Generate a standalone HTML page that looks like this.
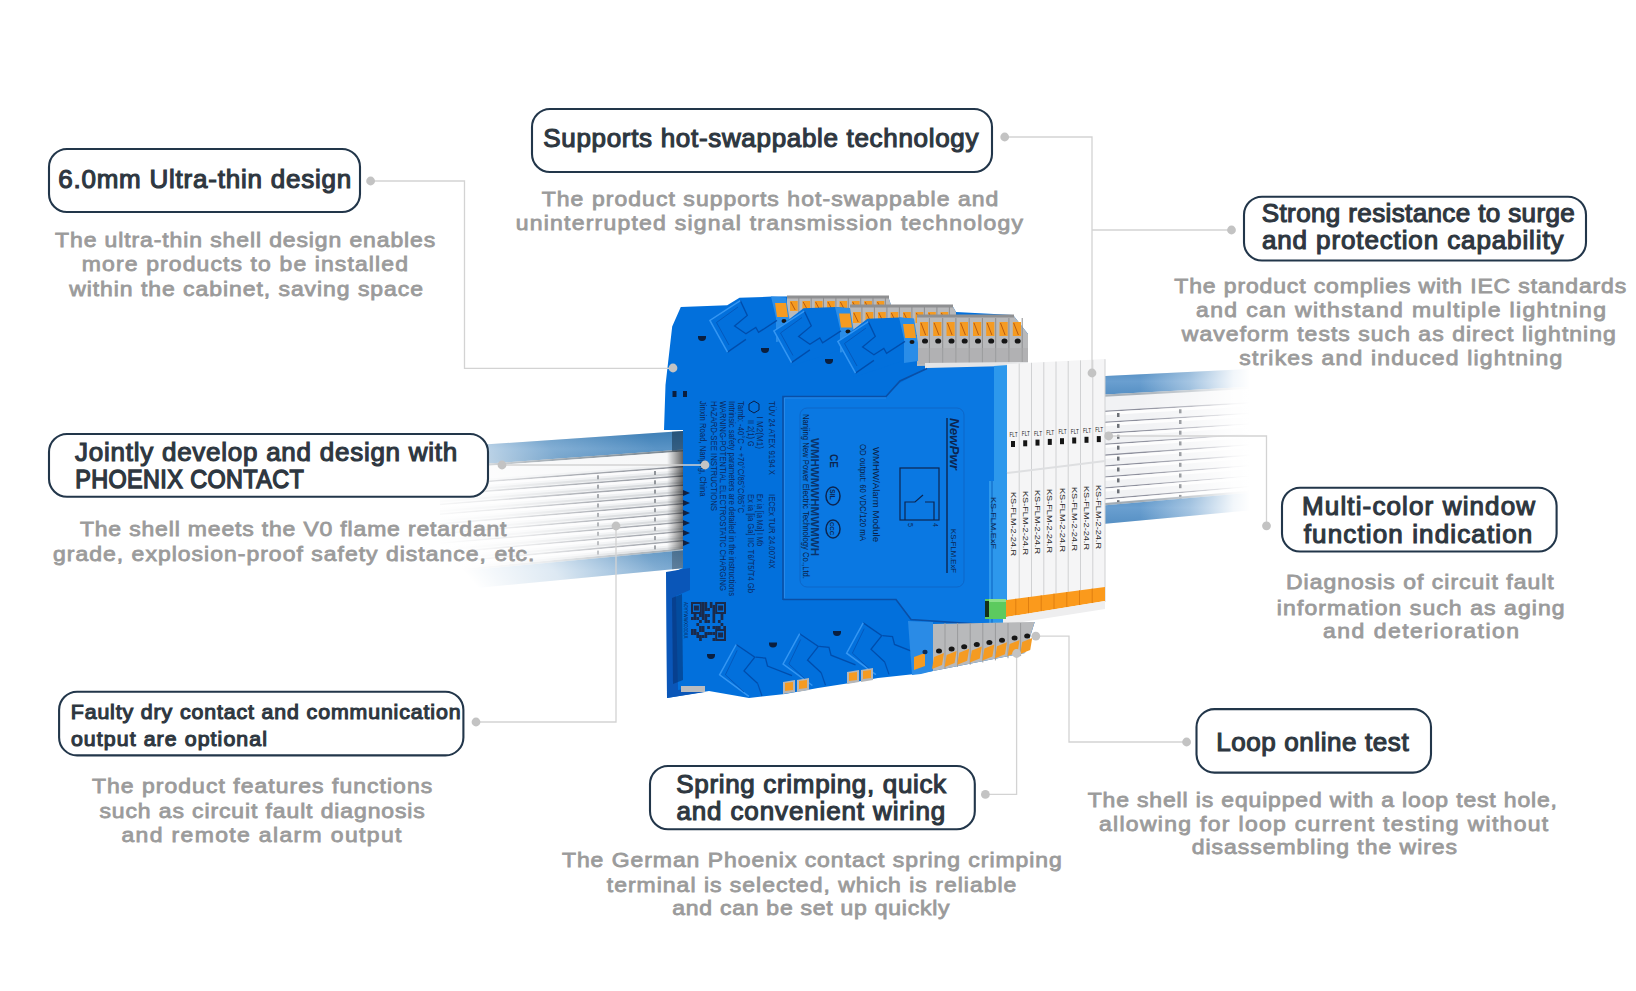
<!DOCTYPE html>
<html><head><meta charset="utf-8"><style>
html,body{margin:0;padding:0;background:#fff;}
body{width:1636px;height:991px;overflow:hidden;position:relative;font-family:"Liberation Sans",sans-serif;}
svg{position:absolute;left:0;top:0;}
text{font-family:"Liberation Sans",sans-serif;font-weight:normal;}
</style></head><body>
<svg width="1636" height="991" viewBox="0 0 1636 991">
<defs>
 <linearGradient id="fadeL" x1="480" y1="590" x2="650" y2="440" gradientUnits="userSpaceOnUse">
  <stop offset="0" stop-color="#fff" stop-opacity="1"/>
  <stop offset="0.3" stop-color="#fff" stop-opacity="0.8"/>
  <stop offset="0.65" stop-color="#fff" stop-opacity="0.25"/>
  <stop offset="1" stop-color="#fff" stop-opacity="0"/>
 </linearGradient>
 <linearGradient id="fadeR" x1="1140" y1="0" x2="1250" y2="0" gradientUnits="userSpaceOnUse">
  <stop offset="0" stop-color="#fff" stop-opacity="0"/>
  <stop offset="0.45" stop-color="#fff" stop-opacity="0.4"/>
  <stop offset="0.85" stop-color="#fff" stop-opacity="0.92"/>
  <stop offset="1" stop-color="#fff" stop-opacity="1"/>
 </linearGradient>
 <linearGradient id="railBlueR" x1="0" y1="0" x2="0" y2="1">
  <stop offset="0" stop-color="#4f8bc0"/>
  <stop offset="0.5" stop-color="#6a9fd0"/>
  <stop offset="1" stop-color="#5690c4"/>
 </linearGradient>
 <linearGradient id="railBlue" x1="0" y1="0" x2="0" y2="1">
  <stop offset="0" stop-color="#3e7fb6"/>
  <stop offset="0.5" stop-color="#5a94c6"/>
  <stop offset="1" stop-color="#3d7db2"/>
 </linearGradient>
</defs>
<polygon points="683.0,431.1 440.0,447.6 440.0,591.5 683.0,568.2" fill="#eceef0" />
<polygon points="683.0,431.1 440.0,447.6 440.0,467.0 683.0,449.6" fill="url(#railBlue)" />
<polygon points="683.0,449.6 440.0,467.0 440.0,469.2 683.0,451.6" fill="#7f8c96" />
<polygon points="683.0,451.6 440.0,469.2 440.0,482.1 683.0,464.0" fill="#f6f7f8" />
<polygon points="683.0,548.3 440.0,570.6 440.0,572.8 683.0,550.3" fill="#98a2aa" />
<polygon points="683.0,550.3 440.0,572.8 440.0,591.5 683.0,568.2" fill="url(#railBlue)" />
<polygon points="683.0,466.0 440.0,484.3 440.0,485.9 683.0,467.5" fill="#8f939b" />
<polygon points="683.0,467.5 440.0,485.9 440.0,488.6 683.0,470.1" fill="#fbfbfc" />
<polygon points="683.0,472.2 440.0,490.8 440.0,492.9 683.0,474.2" fill="#d3d6d9" />
<polygon points="683.0,475.3 440.0,494.0 440.0,495.6 683.0,476.8" fill="#8f939b" />
<polygon points="683.0,476.8 440.0,495.6 440.0,498.3 683.0,479.4" fill="#fbfbfc" />
<polygon points="683.0,481.4 440.0,500.5 440.0,502.6 683.0,483.5" fill="#d3d6d9" />
<polygon points="683.0,484.5 440.0,503.7 440.0,505.3 683.0,486.0" fill="#8f939b" />
<polygon points="683.0,486.0 440.0,505.3 440.0,508.0 683.0,488.6" fill="#fbfbfc" />
<polygon points="683.0,490.7 440.0,510.2 440.0,512.3 683.0,492.8" fill="#d3d6d9" />
<polygon points="683.0,493.8 440.0,513.4 440.0,515.0 683.0,495.3" fill="#8f939b" />
<polygon points="683.0,495.3 440.0,515.0 440.0,517.7 683.0,497.9" fill="#fbfbfc" />
<polygon points="683.0,500.0 440.0,519.9 440.0,522.1 683.0,502.0" fill="#d3d6d9" />
<polygon points="683.0,503.0 440.0,523.1 440.0,524.7 683.0,504.5" fill="#8f939b" />
<polygon points="683.0,504.5 440.0,524.7 440.0,527.5 683.0,507.2" fill="#fbfbfc" />
<polygon points="683.0,509.2 440.0,529.6 440.0,531.8 683.0,511.3" fill="#d3d6d9" />
<polygon points="683.0,512.3 440.0,532.9 440.0,534.4 683.0,513.8" fill="#8f939b" />
<polygon points="683.0,513.8 440.0,534.4 440.0,537.2 683.0,516.4" fill="#fbfbfc" />
<polygon points="683.0,518.5 440.0,539.3 440.0,541.5 683.0,520.5" fill="#d3d6d9" />
<polygon points="683.0,521.5 440.0,542.6 440.0,544.1 683.0,523.1" fill="#8f939b" />
<polygon points="683.0,523.1 440.0,544.1 440.0,546.9 683.0,525.7" fill="#fbfbfc" />
<polygon points="683.0,527.7 440.0,549.0 440.0,551.2 683.0,529.8" fill="#d3d6d9" />
<polygon points="683.0,530.8 440.0,552.3 440.0,553.9 683.0,532.3" fill="#8f939b" />
<polygon points="683.0,532.3 440.0,553.9 440.0,556.6 683.0,534.9" fill="#fbfbfc" />
<polygon points="683.0,537.0 440.0,558.8 440.0,560.9 683.0,539.0" fill="#d3d6d9" />
<polygon points="683.0,540.1 440.0,562.0 440.0,563.6 683.0,541.6" fill="#8f939b" />
<polygon points="683.0,541.6 440.0,563.6 440.0,566.3 683.0,544.2" fill="#fbfbfc" />
<polygon points="683.0,546.2 440.0,568.5 440.0,570.6 683.0,548.3" fill="#d3d6d9" />
<rect x="597" y="475.3" width="2" height="4" fill="#8a8e94"/>
<rect x="597" y="484.7" width="2" height="4" fill="#8a8e94"/>
<rect x="597" y="494.1" width="2" height="4" fill="#8a8e94"/>
<rect x="597" y="503.5" width="2" height="4" fill="#8a8e94"/>
<rect x="597" y="512.9" width="2" height="4" fill="#8a8e94"/>
<rect x="597" y="522.4" width="2" height="4" fill="#8a8e94"/>
<rect x="597" y="531.8" width="2" height="4" fill="#8a8e94"/>
<rect x="597" y="541.2" width="2" height="4" fill="#8a8e94"/>
<rect x="597" y="550.6" width="2" height="4" fill="#8a8e94"/>
<rect x="654" y="471.0" width="2" height="4" fill="#8a8e94"/>
<rect x="654" y="480.3" width="2" height="4" fill="#8a8e94"/>
<rect x="654" y="489.6" width="2" height="4" fill="#8a8e94"/>
<rect x="654" y="498.9" width="2" height="4" fill="#8a8e94"/>
<rect x="654" y="508.2" width="2" height="4" fill="#8a8e94"/>
<rect x="654" y="517.5" width="2" height="4" fill="#8a8e94"/>
<rect x="654" y="526.8" width="2" height="4" fill="#8a8e94"/>
<rect x="654" y="536.1" width="2" height="4" fill="#8a8e94"/>
<rect x="654" y="545.4" width="2" height="4" fill="#8a8e94"/>
<linearGradient id="shL" x1="667" y1="0" x2="683" y2="0" gradientUnits="userSpaceOnUse"><stop offset="0" stop-color="#000" stop-opacity="0"/><stop offset="1" stop-color="#000" stop-opacity="0.6"/></linearGradient>
<polygon points="683.0,450.3 655.0,452.3 655.0,551.5 683.0,549.0" fill="url(#shL)"/>
<polygon points="683.0,431.1 672.0,431.8 672.0,451.0 683.0,450.3" fill="#0d2740" opacity="0.5"/>
<polygon points="683.0,550.3 672.0,551.4 672.0,569.2 683.0,568.2" fill="#0d2740" opacity="0.5"/>
<polygon points="685.0,428.1 435.0,444.6 435.0,596.5 685.0,571.2" fill="url(#fadeL)"/>
<polygon points="1100.0,376.2 1270.0,368.1 1270.0,508.6 1100.0,524.3" fill="#f1f2f4"/>
<polygon points="1100.0,376.2 1270.0,368.1 1270.0,385.7 1100.0,394.7" fill="url(#railBlueR)"/>
<polygon points="1100.0,394.7 1270.0,385.7 1270.0,387.8 1100.0,397.0" fill="#a9b2ba"/>
<polygon points="1100.0,411.0 1270.0,401.1 1270.0,402.4 1100.0,412.3" fill="#8d8f9c"/>
<polygon points="1100.0,412.3 1270.0,402.4 1270.0,405.3 1100.0,415.5" fill="#fdfdfd"/>
<rect x="1117" y="413.0" width="2.5" height="4" fill="#6d7177"/>
<rect x="1179" y="409.3" width="2.5" height="4" fill="#6d7177"/>
<polygon points="1100.0,422.0 1270.0,411.5 1270.0,412.8 1100.0,423.3" fill="#8d8f9c"/>
<polygon points="1100.0,423.3 1270.0,412.8 1270.0,415.7 1100.0,426.4" fill="#fdfdfd"/>
<rect x="1117" y="423.9" width="2.5" height="4" fill="#6d7177"/>
<rect x="1179" y="420.0" width="2.5" height="4" fill="#6d7177"/>
<polygon points="1100.0,432.9 1270.0,421.9 1270.0,423.2 1100.0,434.3" fill="#8d8f9c"/>
<polygon points="1100.0,434.3 1270.0,423.2 1270.0,426.1 1100.0,437.4" fill="#fdfdfd"/>
<rect x="1117" y="434.8" width="2.5" height="4" fill="#6d7177"/>
<rect x="1179" y="430.7" width="2.5" height="4" fill="#6d7177"/>
<polygon points="1100.0,443.9 1270.0,432.3 1270.0,433.6 1100.0,445.2" fill="#8d8f9c"/>
<polygon points="1100.0,445.2 1270.0,433.6 1270.0,436.5 1100.0,448.3" fill="#fdfdfd"/>
<rect x="1117" y="445.7" width="2.5" height="4" fill="#6d7177"/>
<rect x="1179" y="441.4" width="2.5" height="4" fill="#6d7177"/>
<polygon points="1100.0,454.8 1270.0,442.7 1270.0,444.0 1100.0,456.2" fill="#8d8f9c"/>
<polygon points="1100.0,456.2 1270.0,444.0 1270.0,446.9 1100.0,459.3" fill="#fdfdfd"/>
<rect x="1117" y="456.6" width="2.5" height="4" fill="#6d7177"/>
<rect x="1179" y="452.1" width="2.5" height="4" fill="#6d7177"/>
<polygon points="1100.0,465.8 1270.0,453.1 1270.0,454.4 1100.0,467.1" fill="#8d8f9c"/>
<polygon points="1100.0,467.1 1270.0,454.4 1270.0,457.3 1100.0,470.2" fill="#fdfdfd"/>
<rect x="1117" y="467.5" width="2.5" height="4" fill="#6d7177"/>
<rect x="1179" y="462.8" width="2.5" height="4" fill="#6d7177"/>
<polygon points="1100.0,476.8 1270.0,463.5 1270.0,464.7 1100.0,478.1" fill="#8d8f9c"/>
<polygon points="1100.0,478.1 1270.0,464.7 1270.0,467.7 1100.0,481.2" fill="#fdfdfd"/>
<rect x="1117" y="478.4" width="2.5" height="4" fill="#6d7177"/>
<rect x="1179" y="473.5" width="2.5" height="4" fill="#6d7177"/>
<polygon points="1100.0,487.7 1270.0,473.9 1270.0,475.1 1100.0,489.0" fill="#8d8f9c"/>
<polygon points="1100.0,489.0 1270.0,475.1 1270.0,478.1 1100.0,492.1" fill="#fdfdfd"/>
<rect x="1117" y="489.3" width="2.5" height="4" fill="#6d7177"/>
<rect x="1179" y="484.2" width="2.5" height="4" fill="#6d7177"/>
<polygon points="1100.0,498.7 1270.0,484.3 1270.0,485.5 1100.0,500.0" fill="#8d8f9c"/>
<polygon points="1100.0,500.0 1270.0,485.5 1270.0,488.5 1100.0,503.1" fill="#fdfdfd"/>
<rect x="1117" y="500.2" width="2.5" height="4" fill="#6d7177"/>
<rect x="1179" y="494.9" width="2.5" height="4" fill="#6d7177"/>
<polygon points="1100.0,503.5 1270.0,488.9 1270.0,491.0 1100.0,505.8" fill="#a3acb4"/>
<polygon points="1100.0,505.8 1270.0,491.0 1270.0,508.6 1100.0,524.3" fill="url(#railBlueR)"/>
<polygon points="1100.0,372.2 1275.0,362.1 1275.0,514.6 1100.0,528.3" fill="url(#fadeR)"/>
<polygon points="680.8,307.0 727.2,305.2 739.5,297.8 772.0,296.6 888.0,296.0 891.0,305.0 952.0,305.0 956.0,312.0 1013.0,315.0 1028.0,334.0 1028.0,364.0 1007.0,364.0 1007.0,626.0 1034.7,622.0 1025.0,653.0 933.0,671.0 915.0,674.0 878.0,678.0 850.0,683.0 818.0,688.0 785.0,694.0 749.0,698.0 709.0,691.0 667.0,698.0 666.6,575.0 683.0,568.0 683.0,430.0 664.0,430.0 665.5,385.0 672.2,326.6" fill="#0270dc"/>
<polygon points="666.0,572.0 690.0,568.0 690.0,590.0 676.0,596.0 678.0,690.0 705.0,686.0 705.0,692.0 667.0,698.0" fill="#0a56b8"/>
<polygon points="672.0,598.0 682.0,594.0 683.0,680.0 673.0,684.0" fill="#06306e" opacity="0.55"/>
<rect x="681" y="686" width="24" height="6" fill="#b9bcc0"/>
<polygon points="683.0,490.0 690.0,493.0 683.0,496.0" fill="#102040"/>
<polygon points="683.0,500.0 690.0,503.0 683.0,506.0" fill="#102040"/>
<polygon points="683.0,510.0 690.0,513.0 683.0,516.0" fill="#102040"/>
<polygon points="683.0,520.0 690.0,523.0 683.0,526.0" fill="#102040"/>
<polygon points="683.0,530.0 690.0,533.0 683.0,536.0" fill="#102040"/>
<polygon points="683.0,540.0 690.0,543.0 683.0,546.0" fill="#102040"/>
<polygon points="787.0,296.5 888.0,296.0 891.0,305.0 891.0,322.0 787.0,322.0" fill="#b8b9bb"/>
<rect x="787" y="295.5" width="102" height="3" fill="#8f9092"/>
<rect x="790.0" y="301.0" width="7.7" height="10" fill="#f59b22"/>
<line x1="790.9" y1="302.0" x2="795.2" y2="310.0" stroke="#b85a10" stroke-width="1"/>
<rect x="798.3" y="297.0" width="1" height="25.0" fill="#8d8e90"/>
<rect x="802.4" y="301.0" width="7.7" height="10" fill="#f59b22"/>
<line x1="803.2" y1="302.0" x2="807.6" y2="310.0" stroke="#b85a10" stroke-width="1"/>
<rect x="810.7" y="297.0" width="1" height="25.0" fill="#8d8e90"/>
<rect x="814.8" y="301.0" width="7.7" height="10" fill="#f59b22"/>
<line x1="815.6" y1="302.0" x2="819.9" y2="310.0" stroke="#b85a10" stroke-width="1"/>
<rect x="823.0" y="297.0" width="1" height="25.0" fill="#8d8e90"/>
<rect x="827.1" y="301.0" width="7.7" height="10" fill="#f59b22"/>
<line x1="828.0" y1="302.0" x2="832.3" y2="310.0" stroke="#b85a10" stroke-width="1"/>
<rect x="835.4" y="297.0" width="1" height="25.0" fill="#8d8e90"/>
<rect x="839.5" y="301.0" width="7.7" height="10" fill="#f59b22"/>
<line x1="840.4" y1="302.0" x2="844.7" y2="310.0" stroke="#b85a10" stroke-width="1"/>
<rect x="847.8" y="297.0" width="1" height="25.0" fill="#8d8e90"/>
<rect x="851.9" y="301.0" width="7.7" height="10" fill="#f59b22"/>
<line x1="852.7" y1="302.0" x2="857.1" y2="310.0" stroke="#b85a10" stroke-width="1"/>
<rect x="860.2" y="297.0" width="1" height="25.0" fill="#8d8e90"/>
<rect x="864.2" y="301.0" width="7.7" height="10" fill="#f59b22"/>
<line x1="865.1" y1="302.0" x2="869.4" y2="310.0" stroke="#b85a10" stroke-width="1"/>
<rect x="872.5" y="297.0" width="1" height="25.0" fill="#8d8e90"/>
<rect x="876.6" y="301.0" width="7.7" height="10" fill="#f59b22"/>
<line x1="877.5" y1="302.0" x2="881.8" y2="310.0" stroke="#b85a10" stroke-width="1"/>
<rect x="884.9" y="297.0" width="1" height="25.0" fill="#8d8e90"/>
<polygon points="850.0,306.0 952.0,305.0 956.0,312.0 956.0,335.0 850.0,335.0" fill="#b8b9bb"/>
<rect x="850" y="304.5" width="103" height="3" fill="#8f9092"/>
<rect x="853.0" y="312.0" width="7.8" height="11" fill="#f59b22"/>
<line x1="853.9" y1="313.0" x2="858.2" y2="322.0" stroke="#b85a10" stroke-width="1"/>
<rect x="861.4" y="307.0" width="1" height="28.0" fill="#8d8e90"/>
<rect x="865.5" y="312.0" width="7.8" height="11" fill="#f59b22"/>
<line x1="866.4" y1="313.0" x2="870.8" y2="322.0" stroke="#b85a10" stroke-width="1"/>
<rect x="873.9" y="307.0" width="1" height="28.0" fill="#8d8e90"/>
<rect x="878.0" y="312.0" width="7.8" height="11" fill="#f59b22"/>
<line x1="878.9" y1="313.0" x2="883.2" y2="322.0" stroke="#b85a10" stroke-width="1"/>
<rect x="886.4" y="307.0" width="1" height="28.0" fill="#8d8e90"/>
<rect x="890.5" y="312.0" width="7.8" height="11" fill="#f59b22"/>
<line x1="891.4" y1="313.0" x2="895.8" y2="322.0" stroke="#b85a10" stroke-width="1"/>
<rect x="898.9" y="307.0" width="1" height="28.0" fill="#8d8e90"/>
<rect x="903.0" y="312.0" width="7.8" height="11" fill="#f59b22"/>
<line x1="903.9" y1="313.0" x2="908.2" y2="322.0" stroke="#b85a10" stroke-width="1"/>
<rect x="911.4" y="307.0" width="1" height="28.0" fill="#8d8e90"/>
<rect x="915.5" y="312.0" width="7.8" height="11" fill="#f59b22"/>
<line x1="916.4" y1="313.0" x2="920.8" y2="322.0" stroke="#b85a10" stroke-width="1"/>
<rect x="923.9" y="307.0" width="1" height="28.0" fill="#8d8e90"/>
<rect x="928.0" y="312.0" width="7.8" height="11" fill="#f59b22"/>
<line x1="928.9" y1="313.0" x2="933.2" y2="322.0" stroke="#b85a10" stroke-width="1"/>
<rect x="936.4" y="307.0" width="1" height="28.0" fill="#8d8e90"/>
<rect x="940.5" y="312.0" width="7.8" height="11" fill="#f59b22"/>
<line x1="941.4" y1="313.0" x2="945.8" y2="322.0" stroke="#b85a10" stroke-width="1"/>
<rect x="948.9" y="307.0" width="1" height="28.0" fill="#8d8e90"/>
<polygon points="917.0,317.0 1013.0,315.0 1028.0,334.0 1028.0,364.0 917.0,366.0" fill="#b8b9bb"/>
<rect x="917" y="314.5" width="97" height="3" fill="#8f9092"/>
<rect x="920.0" y="322.0" width="8.2" height="14" fill="#f59b22"/>
<line x1="921.0" y1="323.0" x2="925.6" y2="335.0" stroke="#b85a10" stroke-width="1"/>
<rect x="928.9" y="318.0" width="1" height="46.0" fill="#8d8e90"/>
<ellipse cx="925.0" cy="341.0" rx="3" ry="2.6" fill="#161616"/>
<rect x="933.2" y="322.0" width="8.2" height="14" fill="#f59b22"/>
<line x1="934.2" y1="323.0" x2="938.9" y2="335.0" stroke="#b85a10" stroke-width="1"/>
<rect x="942.2" y="318.0" width="1" height="46.0" fill="#8d8e90"/>
<ellipse cx="938.2" cy="341.0" rx="3" ry="2.6" fill="#161616"/>
<rect x="946.5" y="322.0" width="8.2" height="14" fill="#f59b22"/>
<line x1="947.5" y1="323.0" x2="952.1" y2="335.0" stroke="#b85a10" stroke-width="1"/>
<rect x="955.4" y="318.0" width="1" height="46.0" fill="#8d8e90"/>
<ellipse cx="951.5" cy="341.0" rx="3" ry="2.6" fill="#161616"/>
<rect x="959.8" y="322.0" width="8.2" height="14" fill="#f59b22"/>
<line x1="960.7" y1="323.0" x2="965.4" y2="335.0" stroke="#b85a10" stroke-width="1"/>
<rect x="968.7" y="318.0" width="1" height="46.0" fill="#8d8e90"/>
<ellipse cx="964.7" cy="341.0" rx="3" ry="2.6" fill="#161616"/>
<rect x="973.0" y="322.0" width="8.2" height="14" fill="#f59b22"/>
<line x1="974.0" y1="323.0" x2="978.6" y2="335.0" stroke="#b85a10" stroke-width="1"/>
<rect x="981.9" y="318.0" width="1" height="46.0" fill="#8d8e90"/>
<ellipse cx="978.0" cy="341.0" rx="3" ry="2.6" fill="#161616"/>
<rect x="986.2" y="322.0" width="8.2" height="14" fill="#f59b22"/>
<line x1="987.2" y1="323.0" x2="991.9" y2="335.0" stroke="#b85a10" stroke-width="1"/>
<rect x="995.2" y="318.0" width="1" height="46.0" fill="#8d8e90"/>
<ellipse cx="991.2" cy="341.0" rx="3" ry="2.6" fill="#161616"/>
<rect x="999.5" y="322.0" width="8.2" height="14" fill="#f59b22"/>
<line x1="1000.5" y1="323.0" x2="1005.1" y2="335.0" stroke="#b85a10" stroke-width="1"/>
<rect x="1008.4" y="318.0" width="1" height="46.0" fill="#8d8e90"/>
<ellipse cx="1004.5" cy="341.0" rx="3" ry="2.6" fill="#161616"/>
<rect x="1012.8" y="322.0" width="8.2" height="14" fill="#f59b22"/>
<line x1="1013.7" y1="323.0" x2="1018.4" y2="335.0" stroke="#b85a10" stroke-width="1"/>
<rect x="1021.7" y="318.0" width="1" height="46.0" fill="#8d8e90"/>
<ellipse cx="1017.7" cy="341.0" rx="3" ry="2.6" fill="#161616"/>
<rect x="917" y="348" width="111" height="16" fill="#a9aaac" opacity="0.5"/>
<polygon points="925.0,363.0 1028.0,362.0 1028.0,368.0 925.0,370.0" fill="#e4e5e7"/>
<polygon points="771.0,296.6 786.0,297.5 790.0,322.0 790.0,340.0 776.0,342.0 776.0,318.0" fill="#2a8de8"/>
<polygon points="775.0,303.0 786.0,303.0 788.0,317.0 777.0,317.0" fill="#f59b22"/>
<ellipse cx="784" cy="321" rx="2.5" ry="2" fill="#161616"/>
<path d="M740.3,300.6 L747.3,315.4 L734.6,326.0 L745.9,333.8 L755.8,327.4 L758.6,332.4 L777.0,320.4 M727.5,352.1 L745.9,339.4" fill="none" stroke="#0049a6" stroke-width="1.3" opacity="0.9"/>
<path d="M727.5,352.1 L709.9,320.4 L740.3,300.6" fill="none" stroke="#3a9af5" stroke-width="1.5" opacity="0.9"/>
<path d="M729.0,345.0 L716.5,322.5 L738.0,307.0" fill="none" stroke="#0552b4" stroke-width="1" opacity="0.8"/>
<polygon points="774.0,331.0 803.5,308.3 836.0,307.1 850.0,308.5 851.0,346.5 790.0,366.5" fill="#0270dc"/>
<polygon points="835.0,307.1 850.0,308.0 854.0,332.5 854.0,350.5 840.0,352.5 840.0,328.5" fill="#2a8de8"/>
<polygon points="839.0,313.5 850.0,313.5 852.0,327.5 841.0,327.5" fill="#f59b22"/>
<ellipse cx="848" cy="331.5" rx="2.5" ry="2" fill="#161616"/>
<path d="M804.3,311.1 L811.3,325.9 L798.6,336.5 L809.9,344.3 L819.8,337.9 L822.6,342.9 L841.0,330.9 M791.5,362.6 L809.9,349.9" fill="none" stroke="#0049a6" stroke-width="1.3" opacity="0.9"/>
<path d="M791.5,362.6 L773.9,330.9 L804.3,311.1" fill="none" stroke="#3a9af5" stroke-width="1.5" opacity="0.9"/>
<path d="M793.0,355.5 L780.5,333.0 L802.0,317.5" fill="none" stroke="#0552b4" stroke-width="1" opacity="0.8"/>
<polygon points="838.0,341.5 867.5,318.8 900.0,317.6 914.0,319.0 915.0,357.0 854.0,377.0" fill="#0270dc"/>
<polygon points="899.0,317.6 914.0,318.5 918.0,343.0 918.0,361.0 904.0,363.0 904.0,339.0" fill="#2a8de8"/>
<polygon points="903.0,324.0 914.0,324.0 916.0,338.0 905.0,338.0" fill="#f59b22"/>
<ellipse cx="912" cy="342" rx="2.5" ry="2" fill="#161616"/>
<path d="M868.3,321.6 L875.3,336.4 L862.6,347.0 L873.9,354.8 L883.8,348.4 L886.6,353.4 L905.0,341.4 M855.5,373.1 L873.9,360.4" fill="none" stroke="#0049a6" stroke-width="1.3" opacity="0.9"/>
<path d="M855.5,373.1 L837.9,341.4 L868.3,321.6" fill="none" stroke="#3a9af5" stroke-width="1.5" opacity="0.9"/>
<path d="M857.0,366.0 L844.5,343.5 L866.0,328.0" fill="none" stroke="#0552b4" stroke-width="1" opacity="0.8"/>
<path d="M698,337 q0,4 4,4 q4,0 4,-4 z" fill="#0b1f3f"/><rect x="698" y="336" width="8" height="1.6" fill="#0b1f3f"/>
<path d="M761,349 q0,4 4,4 q4,0 4,-4 z" fill="#0b1f3f"/><rect x="761" y="348" width="8" height="1.6" fill="#0b1f3f"/>
<path d="M825,360 q0,4 4,4 q4,0 4,-4 z" fill="#0b1f3f"/><rect x="825" y="359" width="8" height="1.6" fill="#0b1f3f"/>
<path d="M707,655 q0,4 4,4 q4,0 4,-4 z" fill="#0b1f3f"/><rect x="707" y="654" width="8" height="1.6" fill="#0b1f3f"/>
<path d="M769,643.5 q0,4 4,4 q4,0 4,-4 z" fill="#0b1f3f"/><rect x="769" y="642.5" width="8" height="1.6" fill="#0b1f3f"/>
<path d="M833,632 q0,4 4,4 q4,0 4,-4 z" fill="#0b1f3f"/><rect x="833" y="631" width="8" height="1.6" fill="#0b1f3f"/>
<rect x="672.5" y="391" width="4" height="6" fill="#0b1f3f"/><rect x="683" y="391" width="4" height="6" fill="#0b1f3f"/>
<path d="M736.2,644.5 L754.8,657.2 L744.0,670.9 L757.7,683.6 M755.7,657.2 L765.5,658.1 L767.5,666.0 L792.0,675.7" fill="none" stroke="#0049a6" stroke-width="1.3" opacity="0.9"/>
<path d="M748.9,696.3 L719.6,674.8 L736.2,644.5" fill="none" stroke="#3a9af5" stroke-width="1.5" opacity="0.9"/>
<path d="M744.0,692.0 L725.4,674.8 L737.2,650.3" fill="none" stroke="#0552b4" stroke-width="1" opacity="0.8"/>
<path d="M757.7,683.6 L762.0,696.0" fill="none" stroke="#0049a6" stroke-width="1.2" opacity="0.8"/>
<path d="M799.7,633.7 L818.3,646.4 L807.5,660.1 L821.2,672.8 M819.2,646.4 L829.0,647.3 L831.0,655.2 L855.5,664.9" fill="none" stroke="#0049a6" stroke-width="1.3" opacity="0.9"/>
<path d="M812.4,685.5 L783.1,664.0 L799.7,633.7" fill="none" stroke="#3a9af5" stroke-width="1.5" opacity="0.9"/>
<path d="M807.5,681.2 L788.9,664.0 L800.7,639.5" fill="none" stroke="#0552b4" stroke-width="1" opacity="0.8"/>
<path d="M821.2,672.8 L825.5,685.2" fill="none" stroke="#0049a6" stroke-width="1.2" opacity="0.8"/>
<path d="M863.2,622.9 L881.8,635.6 L871.0,649.3 L884.7,662.0 M882.7,635.6 L892.5,636.5 L894.5,644.4 L919.0,654.1" fill="none" stroke="#0049a6" stroke-width="1.3" opacity="0.9"/>
<path d="M875.9,674.7 L846.6,653.2 L863.2,622.9" fill="none" stroke="#3a9af5" stroke-width="1.5" opacity="0.9"/>
<path d="M871.0,670.4 L852.4,653.2 L864.2,628.7" fill="none" stroke="#0552b4" stroke-width="1" opacity="0.8"/>
<path d="M884.7,662.0 L889.0,674.4" fill="none" stroke="#0049a6" stroke-width="1.2" opacity="0.8"/>
<polygon points="783.0,682.0 795.0,680.0 795.0,692.0 783.0,694.0" fill="#b5b6b8"/>
<polygon points="785.0,683.0 793.0,682.0 793.0,690.0 785.0,691.0" fill="#f59b22"/>
<polygon points="797.0,680.0 809.0,678.0 809.0,690.0 797.0,692.0" fill="#b5b6b8"/>
<polygon points="799.0,681.0 807.0,680.0 807.0,688.0 799.0,689.0" fill="#f59b22"/>
<polygon points="847.0,672.0 859.0,670.0 859.0,682.0 847.0,684.0" fill="#b5b6b8"/>
<polygon points="849.0,673.0 857.0,672.0 857.0,680.0 849.0,681.0" fill="#f59b22"/>
<polygon points="861.0,670.0 873.0,668.0 873.0,680.0 861.0,682.0" fill="#b5b6b8"/>
<polygon points="863.0,671.0 871.0,670.0 871.0,678.0 863.0,679.0" fill="#f59b22"/>
<polygon points="900.0,383.0 927.0,368.0 1007.0,366.0 1007.0,626.0 992.0,625.0 911.0,620.0 896.0,600.0 783.0,600.0 783.0,396.5 886.0,396.5" fill="#0a78e2"/>
<polygon points="994.0,366.0 1008.0,365.0 1008.0,626.0 989.0,625.0 989.0,481.0 994.0,481.0" fill="#2d98ec"/>
<line x1="992" y1="481" x2="992" y2="625" stroke="#0b62c0" stroke-width="1"/>
<path d="M783,600 L783,396.5 L886,396.5 L900,381 L927,368.5 M783,599.5 L896,599.5 L911,619.6 L992,625" fill="none" stroke="#0a4fa6" stroke-width="1.6"/>
<path d="M784.5,598 L784.5,398 L886,398" fill="none" stroke="#3a95ee" stroke-width="1" opacity="0.6"/>
<rect x="800" y="408" width="164" height="179" rx="7" fill="none" stroke="#0d66c8" stroke-width="1"/>
<text transform="translate(769,401) rotate(90)" font-size="8.2" fill="#0c2a5e" style="font-weight:normal;font-style:normal" textLength="74.0" lengthAdjust="spacingAndGlyphs">TÜV 24 ATEX 9194 X</text>
<text transform="translate(757,416.6) rotate(90)" font-size="8.2" fill="#0c2a5e" style="font-weight:normal;font-style:normal" textLength="32.4" lengthAdjust="spacingAndGlyphs">I M2(M1)</text>
<text transform="translate(748,420) rotate(90)" font-size="8.2" fill="#0c2a5e" style="font-weight:normal;font-style:normal" textLength="26.6" lengthAdjust="spacingAndGlyphs">II 2(1) G</text>
<text transform="translate(738,401) rotate(90)" font-size="8.2" fill="#0c2a5e" style="font-weight:normal;font-style:normal" textLength="112.0" lengthAdjust="spacingAndGlyphs">Tamb: -40°C ~ +70°C/85°C/85°C</text>
<text transform="translate(729,401) rotate(90)" font-size="8.2" fill="#0c2a5e" style="font-weight:normal;font-style:normal" textLength="195.0" lengthAdjust="spacingAndGlyphs">Intrinsic safety parameters are detailed in the instructions</text>
<text transform="translate(720,401) rotate(90)" font-size="8.2" fill="#0c2a5e" style="font-weight:normal;font-style:normal" textLength="190.0" lengthAdjust="spacingAndGlyphs">WARNING-POTENTIAL ELECTROSTATIC CHARGING</text>
<text transform="translate(711,401) rotate(90)" font-size="8.2" fill="#0c2a5e" style="font-weight:normal;font-style:normal" textLength="110.0" lengthAdjust="spacingAndGlyphs">HAZARD-SEE INSTRUCTIONS</text>
<text transform="translate(700,401) rotate(90)" font-size="8.2" fill="#0c2a5e" style="font-weight:normal;font-style:normal" textLength="95.5" lengthAdjust="spacingAndGlyphs">Jinxin Road, Nanjing, China</text>
<text transform="translate(769,494) rotate(90)" font-size="8.2" fill="#0c2a5e" style="font-weight:normal;font-style:normal" textLength="74.6" lengthAdjust="spacingAndGlyphs">IECEx TUR 24.0074X</text>
<text transform="translate(757,494) rotate(90)" font-size="8.2" fill="#0c2a5e" style="font-weight:normal;font-style:normal" textLength="52.0" lengthAdjust="spacingAndGlyphs">Ex ia [ia Ma] I Mb</text>
<text transform="translate(748,494) rotate(90)" font-size="8.2" fill="#0c2a5e" style="font-weight:normal;font-style:normal" textLength="99.0" lengthAdjust="spacingAndGlyphs">Ex ia [ia Ga] IIC T6/T5/T4 Gb</text>
<polygon points="754,401 759,404 759,410 754,413 749,410 749,404" fill="none" stroke="#0a1e45" stroke-width="1"/>
<rect x="691" y="602" width="35" height="39" fill="none"/>
<g fill="#1b2a4a"><rect x="701.8" y="602.0" width="2.7" height="3.0"/><rect x="704.5" y="602.0" width="2.7" height="3.0"/><rect x="709.8" y="602.0" width="2.7" height="3.0"/><rect x="701.8" y="605.0" width="2.7" height="3.0"/><rect x="704.5" y="605.0" width="2.7" height="3.0"/><rect x="709.8" y="605.0" width="2.7" height="3.0"/><rect x="712.5" y="605.0" width="2.7" height="3.0"/><rect x="701.8" y="608.0" width="2.7" height="3.0"/><rect x="704.5" y="608.0" width="2.7" height="3.0"/><rect x="707.2" y="608.0" width="2.7" height="3.0"/><rect x="712.5" y="608.0" width="2.7" height="3.0"/><rect x="701.8" y="611.0" width="2.7" height="3.0"/><rect x="712.5" y="611.0" width="2.7" height="3.0"/><rect x="693.7" y="614.0" width="2.7" height="3.0"/><rect x="699.1" y="614.0" width="2.7" height="3.0"/><rect x="701.8" y="614.0" width="2.7" height="3.0"/><rect x="704.5" y="614.0" width="2.7" height="3.0"/><rect x="707.2" y="614.0" width="2.7" height="3.0"/><rect x="712.5" y="614.0" width="2.7" height="3.0"/><rect x="720.6" y="614.0" width="2.7" height="3.0"/><rect x="691.0" y="617.0" width="2.7" height="3.0"/><rect x="693.7" y="617.0" width="2.7" height="3.0"/><rect x="696.4" y="617.0" width="2.7" height="3.0"/><rect x="701.8" y="617.0" width="2.7" height="3.0"/><rect x="704.5" y="617.0" width="2.7" height="3.0"/><rect x="712.5" y="617.0" width="2.7" height="3.0"/><rect x="720.6" y="617.0" width="2.7" height="3.0"/><rect x="699.1" y="620.0" width="2.7" height="3.0"/><rect x="704.5" y="620.0" width="2.7" height="3.0"/><rect x="707.2" y="620.0" width="2.7" height="3.0"/><rect x="712.5" y="620.0" width="2.7" height="3.0"/><rect x="717.9" y="620.0" width="2.7" height="3.0"/><rect x="696.4" y="623.0" width="2.7" height="3.0"/><rect x="720.6" y="623.0" width="2.7" height="3.0"/><rect x="699.1" y="626.0" width="2.7" height="3.0"/><rect x="701.8" y="626.0" width="2.7" height="3.0"/><rect x="707.2" y="626.0" width="2.7" height="3.0"/><rect x="712.5" y="626.0" width="2.7" height="3.0"/><rect x="715.2" y="626.0" width="2.7" height="3.0"/><rect x="717.9" y="626.0" width="2.7" height="3.0"/><rect x="723.3" y="626.0" width="2.7" height="3.0"/><rect x="691.0" y="629.0" width="2.7" height="3.0"/><rect x="693.7" y="629.0" width="2.7" height="3.0"/><rect x="699.1" y="629.0" width="2.7" height="3.0"/><rect x="701.8" y="629.0" width="2.7" height="3.0"/><rect x="691.0" y="632.0" width="2.7" height="3.0"/><rect x="693.7" y="632.0" width="2.7" height="3.0"/><rect x="696.4" y="632.0" width="2.7" height="3.0"/><rect x="704.5" y="632.0" width="2.7" height="3.0"/><rect x="707.2" y="632.0" width="2.7" height="3.0"/><rect x="709.8" y="632.0" width="2.7" height="3.0"/><rect x="712.5" y="632.0" width="2.7" height="3.0"/><rect x="696.4" y="635.0" width="2.7" height="3.0"/><rect x="699.1" y="635.0" width="2.7" height="3.0"/><rect x="701.8" y="635.0" width="2.7" height="3.0"/><rect x="704.5" y="635.0" width="2.7" height="3.0"/><rect x="699.1" y="638.0" width="2.7" height="3.0"/><rect x="712.5" y="638.0" width="2.7" height="3.0"/></g>
<rect x="692.0" y="603.0" width="8.8" height="10.0" fill="none" stroke="#1b2a4a" stroke-width="2"/><rect x="693.9" y="605.5" width="5" height="5" fill="#1b2a4a"/>
<rect x="716.2" y="603.0" width="8.8" height="10.0" fill="none" stroke="#1b2a4a" stroke-width="2"/><rect x="718.1" y="605.5" width="5" height="5" fill="#1b2a4a"/>
<rect x="716.2" y="630.0" width="8.8" height="10.0" fill="none" stroke="#1b2a4a" stroke-width="2"/><rect x="718.1" y="632.5" width="5" height="5" fill="#1b2a4a"/>
<text transform="translate(684,602) rotate(90)" font-size="4.5" fill="#0c2550" style="font-weight:normal;font-style:normal" >A0YYWWX000XX</text>
<text transform="translate(803,414) rotate(90)" font-size="8.5" fill="#0a1e45" style="font-weight:normal;font-style:normal" textLength="165" lengthAdjust="spacingAndGlyphs">Nanjing New Power Electric Technology Co.,Ltd.</text>
<text transform="translate(811,438) rotate(90)" font-size="10" fill="#0a1e45" style="font-weight:bold;font-style:normal" textLength="118" lengthAdjust="spacingAndGlyphs" opacity="0.75">WMHWMWHMWMWH</text>
<text x="826" y="464" font-size="10" fill="#0c2550" style="font-weight:bold" transform="rotate(90 833 461)">CE</text>
<ellipse cx="833" cy="496" rx="7" ry="9" fill="none" stroke="#0c2550" stroke-width="1.5"/><ellipse cx="833" cy="529" rx="7" ry="9" fill="none" stroke="#0c2550" stroke-width="1.5"/>
<text transform="translate(859.5,444) rotate(90)" font-size="8.5" fill="#0a1e45" style="font-weight:normal;font-style:normal" textLength="97" lengthAdjust="spacingAndGlyphs">OD output: 60 VDC/120 mA</text>
<text transform="translate(873,447) rotate(90)" font-size="8.5" fill="#0a1e45" style="font-weight:normal;font-style:normal" textLength="95" lengthAdjust="spacingAndGlyphs">WMHW/Alarm Module</text>
<rect x="900" y="468" width="39" height="52" fill="none" stroke="#0c2550" stroke-width="1.2"/>
<text transform="translate(908,523) rotate(90)" font-size="7" fill="#0c2550">5</text><text transform="translate(933,523) rotate(90)" font-size="7" fill="#0c2550">4</text>
<text transform="translate(830,489) rotate(90)" font-size="7" fill="#0c2550" style="font-weight:bold">SIL</text><text transform="translate(830,522) rotate(90)" font-size="6" fill="#0c2550" style="font-weight:bold">CCC</text>
<path d="M905,520 L905,502 L915,502 L923,495 M925,502 L934,502 L934,520" fill="none" stroke="#0c2550" stroke-width="1.2"/>
<line x1="947" y1="418" x2="947" y2="573" stroke="#0c2550" stroke-width="1.4"/>
<text transform="translate(950,418) rotate(90)" font-size="12" fill="#0c2550" style="font-weight:bold;font-style:italic" textLength="52" lengthAdjust="spacingAndGlyphs">NewPwr</text>
<text transform="translate(951,529) rotate(90)" font-size="7.5" fill="#0c2550" style="font-weight:normal;font-style:normal" textLength="44" lengthAdjust="spacingAndGlyphs">KS-FLM.ExF</text>
<polygon points="1007.0,364.0 1105.0,359.0 1105.0,601.0 1007.0,618.0" fill="#f5f5f6"/>
<line x1="1019.2" y1="363.4" x2="1019.2" y2="616.0" stroke="#d0d1d3" stroke-width="1"/>
<text x="1009.5" y="437.0" font-size="7" fill="#222" style="font-weight:normal" textLength="8" lengthAdjust="spacingAndGlyphs">FLT</text>
<rect x="1011.0" y="441.0" width="4" height="6" fill="#151515"/>
<text transform="translate(1010.5,492.0) rotate(90)" font-size="7" fill="#222" style="font-weight:normal;font-style:normal" textLength="64" lengthAdjust="spacingAndGlyphs">KS-FLM-2-24.R</text>
<line x1="1031.5" y1="362.8" x2="1031.5" y2="614.0" stroke="#d0d1d3" stroke-width="1"/>
<text x="1021.8" y="436.3" font-size="7" fill="#222" style="font-weight:normal" textLength="8" lengthAdjust="spacingAndGlyphs">FLT</text>
<rect x="1023.2" y="440.3" width="4" height="6" fill="#151515"/>
<text transform="translate(1022.75,491.0) rotate(90)" font-size="7" fill="#222" style="font-weight:normal;font-style:normal" textLength="64" lengthAdjust="spacingAndGlyphs">KS-FLM-2-24.R</text>
<line x1="1043.8" y1="362.2" x2="1043.8" y2="612.0" stroke="#d0d1d3" stroke-width="1"/>
<text x="1034.0" y="435.6" font-size="7" fill="#222" style="font-weight:normal" textLength="8" lengthAdjust="spacingAndGlyphs">FLT</text>
<rect x="1035.5" y="439.6" width="4" height="6" fill="#151515"/>
<text transform="translate(1035.0,490.0) rotate(90)" font-size="7" fill="#222" style="font-weight:normal;font-style:normal" textLength="64" lengthAdjust="spacingAndGlyphs">KS-FLM-2-24.R</text>
<line x1="1056.0" y1="361.6" x2="1056.0" y2="610.0" stroke="#d0d1d3" stroke-width="1"/>
<text x="1046.2" y="434.9" font-size="7" fill="#222" style="font-weight:normal" textLength="8" lengthAdjust="spacingAndGlyphs">FLT</text>
<rect x="1047.8" y="438.9" width="4" height="6" fill="#151515"/>
<text transform="translate(1047.25,489.0) rotate(90)" font-size="7" fill="#222" style="font-weight:normal;font-style:normal" textLength="64" lengthAdjust="spacingAndGlyphs">KS-FLM-2-24.R</text>
<line x1="1068.2" y1="361.0" x2="1068.2" y2="608.0" stroke="#d0d1d3" stroke-width="1"/>
<text x="1058.5" y="434.2" font-size="7" fill="#222" style="font-weight:normal" textLength="8" lengthAdjust="spacingAndGlyphs">FLT</text>
<rect x="1060.0" y="438.2" width="4" height="6" fill="#151515"/>
<text transform="translate(1059.5,488.0) rotate(90)" font-size="7" fill="#222" style="font-weight:normal;font-style:normal" textLength="64" lengthAdjust="spacingAndGlyphs">KS-FLM-2-24.R</text>
<line x1="1080.5" y1="360.4" x2="1080.5" y2="606.0" stroke="#d0d1d3" stroke-width="1"/>
<text x="1070.8" y="433.5" font-size="7" fill="#222" style="font-weight:normal" textLength="8" lengthAdjust="spacingAndGlyphs">FLT</text>
<rect x="1072.2" y="437.5" width="4" height="6" fill="#151515"/>
<text transform="translate(1071.75,487.0) rotate(90)" font-size="7" fill="#222" style="font-weight:normal;font-style:normal" textLength="64" lengthAdjust="spacingAndGlyphs">KS-FLM-2-24.R</text>
<line x1="1092.8" y1="359.8" x2="1092.8" y2="604.0" stroke="#d0d1d3" stroke-width="1"/>
<text x="1083.0" y="432.8" font-size="7" fill="#222" style="font-weight:normal" textLength="8" lengthAdjust="spacingAndGlyphs">FLT</text>
<rect x="1084.5" y="436.8" width="4" height="6" fill="#151515"/>
<text transform="translate(1084.0,486.0) rotate(90)" font-size="7" fill="#222" style="font-weight:normal;font-style:normal" textLength="64" lengthAdjust="spacingAndGlyphs">KS-FLM-2-24.R</text>
<line x1="1105.0" y1="359.2" x2="1105.0" y2="602.0" stroke="#d0d1d3" stroke-width="1"/>
<text x="1095.2" y="432.1" font-size="7" fill="#222" style="font-weight:normal" textLength="8" lengthAdjust="spacingAndGlyphs">FLT</text>
<rect x="1096.8" y="436.1" width="4" height="6" fill="#151515"/>
<text transform="translate(1096.25,485.0) rotate(90)" font-size="7" fill="#222" style="font-weight:normal;font-style:normal" textLength="64" lengthAdjust="spacingAndGlyphs">KS-FLM-2-24.R</text>
<path d="M1007,473 L1105,461" stroke="#dedfe1" stroke-width="2"/>
<text transform="translate(991,497) rotate(90)" font-size="7" fill="#0c2550" style="font-weight:normal;font-style:normal" textLength="52" lengthAdjust="spacingAndGlyphs">KS-FLM.ExF</text>
<polygon points="1003.0,600.5 1105.0,587.0 1105.0,601.0 1003.0,617.5" fill="#fb9a1c"/>
<line x1="1015.8" y1="598.8" x2="1015.8" y2="615.4" stroke="#e07f10" stroke-width="1"/>
<line x1="1028.5" y1="597.1" x2="1028.5" y2="613.4" stroke="#e07f10" stroke-width="1"/>
<line x1="1041.2" y1="595.4" x2="1041.2" y2="611.3" stroke="#e07f10" stroke-width="1"/>
<line x1="1054.0" y1="593.7" x2="1054.0" y2="609.3" stroke="#e07f10" stroke-width="1"/>
<line x1="1066.8" y1="592.0" x2="1066.8" y2="607.2" stroke="#e07f10" stroke-width="1"/>
<line x1="1079.5" y1="590.4" x2="1079.5" y2="605.1" stroke="#e07f10" stroke-width="1"/>
<line x1="1092.2" y1="588.7" x2="1092.2" y2="603.1" stroke="#e07f10" stroke-width="1"/>
<polygon points="1003.0,617.5 1105.0,601.0 1105.0,609.0 1003.0,625.0" fill="#eeeeef"/>
<rect x="985" y="599" width="21" height="20" fill="#5cca5f"/><rect x="985" y="601" width="4" height="16" fill="#15301a"/><rect x="989" y="599" width="17" height="3" fill="#8be08a"/>
<polygon points="908.0,621.0 933.0,622.0 933.0,671.0 921.0,674.0 912.0,675.0" fill="#2a8be6"/>
<polygon points="914.0,657.0 925.0,653.0 925.0,666.0 914.0,670.0" fill="#f59b22"/>
<ellipse cx="925" cy="652" rx="2.6" ry="2.2" fill="#0d2a55"/>
<polygon points="933.0,624.0 1034.7,622.0 1025.0,653.0 933.0,671.0" fill="#b8b9bb"/>
<ellipse cx="939.0" cy="651.0" rx="3" ry="2.5" fill="#161616"/>
<polygon points="934.0,657.0 944.0,653.0 942.0,665.0 932.0,669.0" fill="#f59b22"/>
<rect x="944.5" y="623.0" width="1" height="46.0" fill="#9a9b9d"/>
<ellipse cx="951.6" cy="648.9" rx="3" ry="2.5" fill="#161616"/>
<polygon points="946.6,654.9 956.6,650.9 954.6,662.9 944.6,666.9" fill="#f59b22"/>
<rect x="957.1" y="623.0" width="1" height="43.9" fill="#9a9b9d"/>
<ellipse cx="964.2" cy="646.7" rx="3" ry="2.5" fill="#161616"/>
<polygon points="959.2,652.7 969.2,648.7 967.2,660.7 957.2,664.7" fill="#f59b22"/>
<rect x="969.7" y="623.0" width="1" height="41.7" fill="#9a9b9d"/>
<ellipse cx="976.8" cy="644.5" rx="3" ry="2.5" fill="#161616"/>
<polygon points="971.8,650.5 981.8,646.5 979.8,658.5 969.8,662.5" fill="#f59b22"/>
<rect x="982.3" y="623.0" width="1" height="39.5" fill="#9a9b9d"/>
<ellipse cx="989.4" cy="642.4" rx="3" ry="2.5" fill="#161616"/>
<polygon points="984.4,648.4 994.4,644.4 992.4,656.4 982.4,660.4" fill="#f59b22"/>
<rect x="994.9" y="623.0" width="1" height="37.4" fill="#9a9b9d"/>
<ellipse cx="1002.0" cy="640.2" rx="3" ry="2.5" fill="#161616"/>
<polygon points="997.0,646.2 1007.0,642.2 1005.0,654.2 995.0,658.2" fill="#f59b22"/>
<rect x="1007.5" y="623.0" width="1" height="35.2" fill="#9a9b9d"/>
<ellipse cx="1014.6" cy="638.1" rx="3" ry="2.5" fill="#161616"/>
<polygon points="1009.6,644.1 1019.6,640.1 1017.6,652.1 1007.6,656.1" fill="#f59b22"/>
<rect x="1020.1" y="623.0" width="1" height="33.1" fill="#9a9b9d"/>
<ellipse cx="1027.2" cy="636.0" rx="3" ry="2.5" fill="#161616"/>
<polygon points="1022.2,642.0 1032.2,638.0 1030.2,650.0 1020.2,654.0" fill="#f59b22"/>
<polyline points="370,181 464.5,181 464.5,368.3 673,368.3" fill="none" stroke="#d3d3d3" stroke-width="1.3"/>
<polyline points="1004.7,137 1092,137 1092,373" fill="none" stroke="#d3d3d3" stroke-width="1.3"/>
<polyline points="1231.5,230 1092,230" fill="none" stroke="#d3d3d3" stroke-width="1.3"/>
<polyline points="502,465 705,465" fill="none" stroke="#d3d3d3" stroke-width="1.3"/>
<polyline points="476,722 616,722 616,526" fill="none" stroke="#d3d3d3" stroke-width="1.3"/>
<polyline points="985.4,794.4 1016.6,794.4 1016.6,653.5" fill="none" stroke="#d3d3d3" stroke-width="1.3"/>
<polyline points="1186.6,742 1069,742 1069,636.2 1035.8,636.2" fill="none" stroke="#d3d3d3" stroke-width="1.3"/>
<polyline points="1266.5,525.8 1266.5,436 1108.7,436" fill="none" stroke="#d3d3d3" stroke-width="1.3"/>
<circle cx="370.6" cy="181" r="4.4" fill="#c3c3c3"/>
<circle cx="673" cy="368" r="4.4" fill="#c3c3c3"/>
<circle cx="1004.7" cy="137" r="4.4" fill="#c3c3c3"/>
<circle cx="1092" cy="373" r="4.4" fill="#c3c3c3"/>
<circle cx="1231.5" cy="230" r="4.4" fill="#c3c3c3"/>
<circle cx="502" cy="465" r="4.4" fill="#c3c3c3"/>
<circle cx="705" cy="465" r="4.4" fill="#c3c3c3"/>
<circle cx="476" cy="722" r="4.4" fill="#c3c3c3"/>
<circle cx="616" cy="526" r="4.4" fill="#c3c3c3"/>
<circle cx="985.4" cy="794.4" r="4.4" fill="#c3c3c3"/>
<circle cx="1016.6" cy="653.5" r="4.4" fill="#c3c3c3"/>
<circle cx="1186.6" cy="742" r="4.4" fill="#c3c3c3"/>
<circle cx="1035.8" cy="636.2" r="4.4" fill="#c3c3c3"/>
<circle cx="1266.5" cy="525.8" r="4.4" fill="#c3c3c3"/>
<circle cx="1108.7" cy="436" r="4.4" fill="#c3c3c3"/>
<rect x="49.0" y="149.0" width="311.0" height="63.0" rx="18" ry="18" fill="#fff" stroke="#22364a" stroke-width="2.1"/>
<rect x="532.0" y="109.0" width="460.0" height="63.0" rx="18" ry="18" fill="#fff" stroke="#22364a" stroke-width="2.1"/>
<rect x="1244.0" y="196.8" width="342.0" height="63.7" rx="18" ry="18" fill="#fff" stroke="#22364a" stroke-width="2.1"/>
<rect x="49.0" y="434.0" width="439.0" height="62.8" rx="18" ry="18" fill="#fff" stroke="#22364a" stroke-width="2.1"/>
<rect x="59.1" y="691.8" width="404.3" height="63.6" rx="18" ry="18" fill="#fff" stroke="#22364a" stroke-width="2.1"/>
<rect x="650.0" y="766.0" width="324.8" height="63.2" rx="18" ry="18" fill="#fff" stroke="#22364a" stroke-width="2.1"/>
<rect x="1282.0" y="487.8" width="274.6" height="63.7" rx="18" ry="18" fill="#fff" stroke="#22364a" stroke-width="2.1"/>
<rect x="1196.5" y="709.1" width="234.5" height="63.5" rx="18" ry="18" fill="#fff" stroke="#22364a" stroke-width="2.1"/>
<text transform="translate(58.16,188.00) scale(1.04,1)" font-size="25" letter-spacing="0.747" fill="#2e3740" stroke="#2e3740" stroke-width="1.1">6.0mm Ultra-thin design</text>
<text transform="translate(543.29,147.40) scale(1.04,1)" font-size="25" letter-spacing="0.657" fill="#2e3740" stroke="#2e3740" stroke-width="1.1">Supports hot-swappable technology</text>
<text transform="translate(1261.79,222.30) scale(1.04,1)" font-size="25" letter-spacing="0.366" fill="#2e3740" stroke="#2e3740" stroke-width="1.1">Strong resistance to surge</text>
<text transform="translate(1261.92,248.70) scale(1.04,1)" font-size="25" letter-spacing="0.850" fill="#2e3740" stroke="#2e3740" stroke-width="1.1">and protection capability</text>
<text transform="translate(75.07,461.40) scale(1.04,1)" font-size="25" letter-spacing="0.716" fill="#2e3740" stroke="#2e3740" stroke-width="1.1">Jointly develop and design with</text>
<text transform="translate(75.14,488.30) scale(0.935559088500265,1)" font-size="25" letter-spacing="0.442" fill="#2e3740" stroke="#2e3740" stroke-width="1.3757675314376345">PHOENIX CONTACT</text>
<text transform="translate(70.75,718.50) scale(1.04,1)" font-size="20.5" letter-spacing="0.847" fill="#2e3740" stroke="#2e3740" stroke-width="1.1">Faulty dry contact and communication</text>
<text transform="translate(70.90,745.50) scale(1.04,1)" font-size="20.5" letter-spacing="1.041" fill="#2e3740" stroke="#2e3740" stroke-width="1.1">output are optional</text>
<text transform="translate(676.29,792.80) scale(1.04,1)" font-size="25" letter-spacing="0.646" fill="#2e3740" stroke="#2e3740" stroke-width="1.1">Spring crimping, quick</text>
<text transform="translate(676.42,819.80) scale(1.04,1)" font-size="25" letter-spacing="0.836" fill="#2e3740" stroke="#2e3740" stroke-width="1.1">and convenient wiring</text>
<text transform="translate(1302.08,515.00) scale(1.04,1)" font-size="25" letter-spacing="1.085" fill="#2e3740" stroke="#2e3740" stroke-width="1.1">Multi-color window</text>
<text transform="translate(1303.77,542.50) scale(1.04,1)" font-size="25" letter-spacing="1.086" fill="#2e3740" stroke="#2e3740" stroke-width="1.1">function indication</text>
<text transform="translate(1216.18,750.50) scale(1.04,1)" font-size="25" letter-spacing="0.573" fill="#2e3740" stroke="#2e3740" stroke-width="1.1">Loop online test</text>
<text transform="translate(55.10,247.00) scale(1.12,1)" font-size="20.5" letter-spacing="0.805" fill="#9b9b9b" stroke="#9b9b9b" stroke-width="0.8">The ultra-thin shell design enables</text>
<text transform="translate(81.87,271.30) scale(1.12,1)" font-size="20.5" letter-spacing="1.003" fill="#9b9b9b" stroke="#9b9b9b" stroke-width="0.8">more products to be installed</text>
<text transform="translate(69.16,295.70) scale(1.12,1)" font-size="20.5" letter-spacing="0.859" fill="#9b9b9b" stroke="#9b9b9b" stroke-width="0.8">within the cabinet, saving space</text>
<text transform="translate(541.70,205.70) scale(1.12,1)" font-size="20.5" letter-spacing="0.954" fill="#9b9b9b" stroke="#9b9b9b" stroke-width="0.8">The product supports hot-swappable and</text>
<text transform="translate(515.77,230.40) scale(1.12,1)" font-size="20.5" letter-spacing="1.105" fill="#9b9b9b" stroke="#9b9b9b" stroke-width="0.8">uninterrupted signal transmission technology</text>
<text transform="translate(1174.30,293.40) scale(1.12,1)" font-size="20.5" letter-spacing="0.789" fill="#9b9b9b" stroke="#9b9b9b" stroke-width="0.8">The product complies with IEC standards</text>
<text transform="translate(1196.04,317.00) scale(1.12,1)" font-size="20.5" letter-spacing="1.216" fill="#9b9b9b" stroke="#9b9b9b" stroke-width="0.8">and can withstand multiple lightning</text>
<text transform="translate(1181.86,341.00) scale(1.12,1)" font-size="20.5" letter-spacing="0.938" fill="#9b9b9b" stroke="#9b9b9b" stroke-width="0.8">waveform tests such as direct lightning</text>
<text transform="translate(1239.27,365.00) scale(1.12,1)" font-size="20.5" letter-spacing="1.069" fill="#9b9b9b" stroke="#9b9b9b" stroke-width="0.8">strikes and induced lightning</text>
<text transform="translate(79.90,536.00) scale(1.12,1)" font-size="20.5" letter-spacing="0.754" fill="#9b9b9b" stroke="#9b9b9b" stroke-width="0.8">The shell meets the V0 flame retardant</text>
<text transform="translate(53.04,561.00) scale(1.12,1)" font-size="20.5" letter-spacing="0.912" fill="#9b9b9b" stroke="#9b9b9b" stroke-width="0.8">grade, explosion-proof safety distance, etc.</text>
<text transform="translate(91.90,793.00) scale(1.12,1)" font-size="20.5" letter-spacing="0.935" fill="#9b9b9b" stroke="#9b9b9b" stroke-width="0.8">The product features functions</text>
<text transform="translate(99.47,817.60) scale(1.12,1)" font-size="20.5" letter-spacing="0.800" fill="#9b9b9b" stroke="#9b9b9b" stroke-width="0.8">such as circuit fault diagnosis</text>
<text transform="translate(121.44,842.00) scale(1.12,1)" font-size="20.5" letter-spacing="1.216" fill="#9b9b9b" stroke="#9b9b9b" stroke-width="0.8">and remote alarm output</text>
<text transform="translate(561.90,866.50) scale(1.12,1)" font-size="20.5" letter-spacing="0.861" fill="#9b9b9b" stroke="#9b9b9b" stroke-width="0.8">The German Phoenix contact spring crimping</text>
<text transform="translate(606.81,891.50) scale(1.12,1)" font-size="20.5" letter-spacing="0.902" fill="#9b9b9b" stroke="#9b9b9b" stroke-width="0.8">terminal is selected, which is reliable</text>
<text transform="translate(672.24,915.00) scale(1.12,1)" font-size="20.5" letter-spacing="0.681" fill="#9b9b9b" stroke="#9b9b9b" stroke-width="0.8">and can be set up quickly</text>
<text transform="translate(1285.92,589.40) scale(1.12,1)" font-size="20.5" letter-spacing="0.910" fill="#9b9b9b" stroke="#9b9b9b" stroke-width="0.8">Diagnosis of circuit fault</text>
<text transform="translate(1276.87,615.00) scale(1.12,1)" font-size="20.5" letter-spacing="0.976" fill="#9b9b9b" stroke="#9b9b9b" stroke-width="0.8">information such as aging</text>
<text transform="translate(1323.04,638.00) scale(1.12,1)" font-size="20.5" letter-spacing="1.327" fill="#9b9b9b" stroke="#9b9b9b" stroke-width="0.8">and deterioration</text>
<text transform="translate(1087.70,806.60) scale(1.12,1)" font-size="20.5" letter-spacing="0.766" fill="#9b9b9b" stroke="#9b9b9b" stroke-width="0.8">The shell is equipped with a loop test hole,</text>
<text transform="translate(1098.94,830.80) scale(1.12,1)" font-size="20.5" letter-spacing="1.175" fill="#9b9b9b" stroke="#9b9b9b" stroke-width="0.8">allowing for loop current testing without</text>
<text transform="translate(1191.74,854.00) scale(1.12,1)" font-size="20.5" letter-spacing="0.884" fill="#9b9b9b" stroke="#9b9b9b" stroke-width="0.8">disassembling the wires</text>
</svg>
</body></html>
